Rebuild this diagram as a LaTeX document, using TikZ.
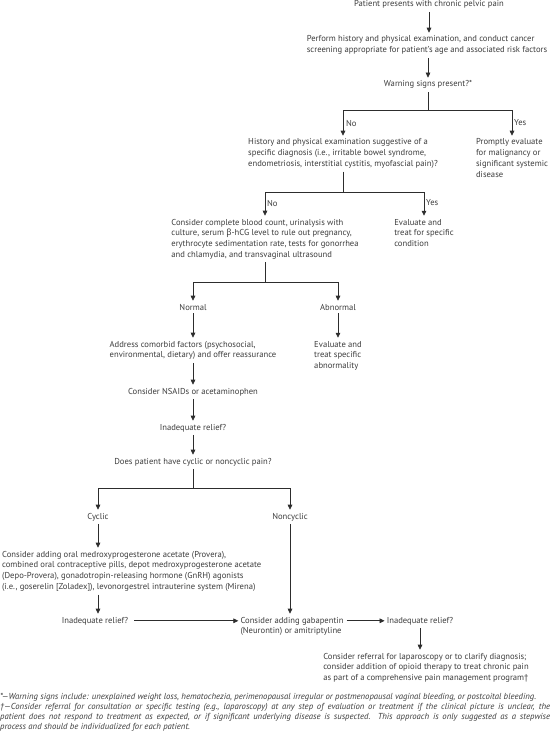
\documentclass[tikz,border=0pt]{standalone}
\usepackage{fontspec}
\setmainfont{PT Sans}
\newfontfamily\grk{Noto Sans}
\usetikzlibrary{arrows.meta}
\definecolor{txt}{RGB}{60,60,60}
\definecolor{ln}{RGB}{45,45,45}
\begin{document}
\begin{tikzpicture}[x=1pt,y=-1pt,
  every node/.style={font=\fontsize{8.6}{10.8}\selectfont, text=txt},
  flow/.style={align=left, inner xsep=0pt, inner ysep=3pt, anchor=base},
  lbl/.style={anchor=west, inner sep=1pt},
  conn/.style={draw=ln, line width=0.7pt},
  arr/.style={conn, -{Triangle[length=5pt,width=4.6pt]}},
  fnote/.style={anchor=north west, text width=550pt, inner sep=0pt, align=justify,
    font=\fontsize{8.7}{10}\selectfont\itshape}
]
\useasboundingbox (0,0) rectangle (550,743);

\node[flow] (n1) at (429,7) {Patient presents with chronic pelvic pain};
\node[flow] (n2) at (427,52.8) {Perform history and physical examination, and conduct cancer\\screening appropriate for patient’s age and associated risk factors};
\node[flow] (n3) at (428,87) {Warning signs present?*};
\coordinate (s1) at (428,110);
\node[flow] (n4) at (343,166.6) {History and physical examination suggestive of a\\specific diagnosis (i.e., irritable bowel syndrome,\\endometriosis, interstitial cystitis, myofascial pain)?};
\node[flow] (n5) at (512,177.4) {Promptly evaluate\\for malignancy or\\significant systemic\\disease};
\coordinate (s2) at (343,192);
\node[flow] (n6) at (265,257.4) {Consider complete blood count, urinalysis with\\culture, serum {\grk β}-hCG level to rule out pregnancy,\\erythrocyte sedimentation rate, tests for gonorrhea\\and chlamydia, and transvaginal ultrasound};
\node[flow] (n7) at (424,246.6) {Evaluate and\\treat for specific\\condition};
\coordinate (s3) at (265,282);
\node[flow] (n8) at (193,310) {Normal};
\node[flow] (n9) at (338,310) {Abnormal};
\node[flow] (n10) at (193,357.8) {Address comorbid factors (psychosocial,\\environmental, dietary) and offer reassurance};
\node[flow] (n11) at (338,368.6) {Evaluate and\\treat specific\\abnormality};
\node[flow] (n12) at (193,394) {Consider NSAIDs or acetaminophen};
\node[flow] (n13) at (193,430) {Inadequate relief?};
\node[flow] (n14) at (193,464) {Does patient have cyclic or noncyclic pain?};
\coordinate (s4) at (193,488);
\node[flow] (n15) at (98,519) {Cyclic};
\node[flow] (n16) at (290,519) {Noncyclic};
\node[flow, anchor=base west] (n17) at (2,589.4) {Consider adding oral medroxyprogesterone acetate (Provera),\\combined oral contraceptive pills, depot medroxyprogesterone acetate\\(Depo-Provera), gonadotropin-releasing hormone (GnRH) agonists\\(i.e., goserelin [Zoladex]), levonorgestrel intrauterine system (Mirena)};
\node[flow] (n18) at (95,623) {Inadequate relief?};
\node[flow] (n19) at (292,633.8) {Consider adding gabapentin\\(Neurontin) or amitriptyline};
\node[flow] (n20) at (420,623) {Inadequate relief?};
\node[flow] (n21) at (426,680.6) {Consider referral for laparoscopy or to clarify diagnosis;\\consider addition of opioid therapy to treat chronic pain\\as part of a comprehensive pain management program†};

\node[lbl] (l1) at (345,123) {No};
\node[lbl] (l2) at (513,123) {Yes};
\node[lbl] (l3) at (266,203) {No};
\node[lbl] (l4) at (425,203) {Yes};

\draw[conn] (n3.south) -- (s1);
\draw[arr] (s1) -| (n4.north);
\draw[arr] (s1) -| (n5.north);
\draw[arr] (n1.south) -- (n1.south |- n2.north);
\draw[arr] (n3.north |- n2.south) -- (n3.north);
\draw[conn] (n4.south) -- (s2);
\draw[arr] (s2) -| (n6.north);
\draw[arr] (s2) -| (n7.north);
\draw[conn] (n6.south) -- (s3);
\draw[arr] (s3) -| (n8.north);
\draw[arr] (s3) -| (n9.north);
\draw[arr] (n8.south) -- (n10.north);
\draw[arr] (n9.south) -- (n11.north);
\draw[arr] (n10.south) -- (n12.north);
\draw[arr] (n12.south) -- (n13.north);
\draw[arr] (n13.south) -- (n14.north);
\draw[conn] (n14.south) -- (s4);
\draw[arr] (s4) -| (n15.north);
\draw[arr] (s4) -| (n16.north);
\draw[arr] (n15.south) -- (n15.south |- n17.north);
\draw[arr] (n17.south -| n15) -- (n18.north -| n15);
\draw[arr] (n16.south) -- (n16.south |- n19.north);
\draw[arr, shorten <=6pt, shorten >=2pt] (n18.east) -- (n18.east -| n19.west);
\draw[arr, shorten <=3pt, shorten >=2pt] (n19.east |- n20.west) -- (n20.west);
\draw[arr] (n20.south) -- (n20.south |- n21.north);

\node[fnote] (fn) at (0,693) {*—Warning signs include: unexplained weight loss, hematochezia, perimenopausal irregular or postmenopausal vaginal bleeding, or postcoital bleeding.\par
†—Consider referral for consultation or specific testing (e.g., laparoscopy) at any step of evaluation or treatment if the clinical picture is unclear, the\linebreak patient does not respond to treatment as expected, or if significant underlying disease is suspected. This approach is only suggested as a stepwise\linebreak process and should be individualized for each patient.};
\end{tikzpicture}
\end{document}
